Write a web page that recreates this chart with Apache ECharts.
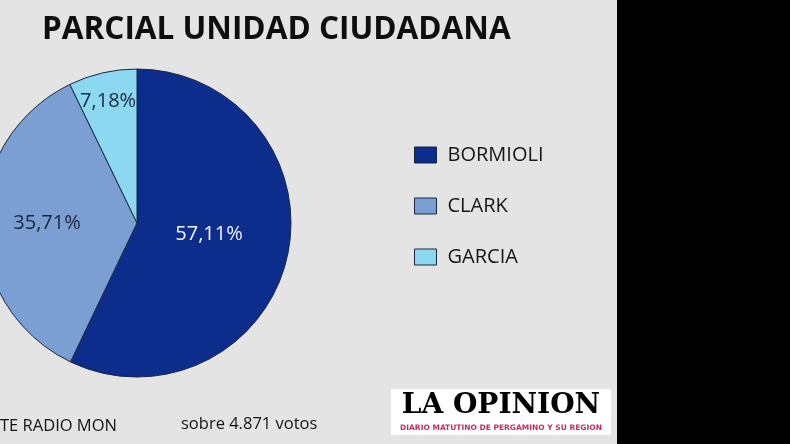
<!DOCTYPE html>
<html>
<head>
<meta charset="utf-8">
<script src="https://cdn.jsdelivr.net/npm/echarts@6/dist/echarts.min.js"></script>
<style>
  html, body { margin: 0; padding: 0; background: #000; }
  #chart { width: 617px; height: 444px; }
</style>
</head>
<body>
<div id="chart"></div>
<script>
// datos
var candidatos = ['BORMIOLI', 'CLARK', 'GARCIA']
var porcentajes = [57.11, 35.71, 7.18]
var colores = ['#0c2d8c', '#7c9fd3', '#8cd8f1']
var colorEtiqueta = ['#f2f4ff', '#1b2640', '#1b2640']
var titulo = 'PARCIAL UNIDAD CIUDADANA'
var fuente = 'TE RADIO MON'
var nota = 'sobre 4.871 votos'

var myChart = echarts.init(document.getElementById('chart'))

var datos = candidatos.map(function (n, i) {
  return {
    name: n,
    value: porcentajes[i],
    itemStyle: { color: colores[i] },
    label: { color: colorEtiqueta[i] }
  }
})

var option = {
  backgroundColor: '#e4e4e4',
  animation: false,
  title: {
    text: titulo,
    left: 42,
    top: 14,
    padding: 0,
    textStyle: {
      fontFamily: 'Open Sans',
      fontWeight: 'bold',
      fontSize: 31.5,
      color: '#0e0e0e'
    }
  },
  legend: {
    orient: 'vertical',
    left: 414,
    top: 145,
    padding: 0,
    itemWidth: 22,
    itemHeight: 16,
    itemGap: 31,
    icon: 'rect',
    data: candidatos,
    itemStyle: { borderColor: '#1b2640', borderWidth: 1 },
    textStyle: {
      fontFamily: 'Open Sans',
      fontSize: 20,
      color: '#161616',
      padding: [0, 0, 0, 6]
    }
  },
  series: [
    {
      type: 'pie',
      center: [137, 223],
      radius: 154,
      startAngle: 90,
      clockwise: true,
      silent: true,
      itemStyle: { borderColor: '#1b2640', borderWidth: 1 },
      label: {
        position: 'inside',
        fontFamily: 'Open Sans',
        fontSize: 20,
        formatter: function (p) {
          return p.value.toFixed(2).replace('.', ',') + '%'
        }
      },
      labelLine: { show: false },
      // ajuste fino de las etiquetas
      labelLayout: function (p) {
        if (p.dataIndex === 1) return { dx: -10, dy: 0 }
        if (p.dataIndex === 2) return { dx: -11, dy: -44 }
        return { dx: -6, dy: -6 }
      },
      data: datos
    }
  ],
  graphic: [
    {
      type: 'text',
      left: 0,
      top: 418,
      style: { text: fuente, font: '16.5px "Open Sans"', fill: '#141414' }
    },
    {
      type: 'text',
      left: 181,
      top: 416,
      style: { text: nota, font: '16.5px "Open Sans"', fill: '#141414' }
    },
    {
      type: 'group',
      left: 391,
      top: 389,
      children: [
        {
          type: 'rect',
          shape: { x: 0, y: 0, width: 220, height: 46 },
          style: { fill: '#ffffff' }
        },
        {
          type: 'text',
          x: 110,
          y: 3,
          style: {
            text: 'LA OPINION',
            font: 'bold 28px "DejaVu Serif"',
            fill: '#000',
            align: 'center'
          }
        },
        {
          type: 'text',
          x: 110,
          y: 35,
          style: {
            text: 'DIARIO MATUTINO DE PERGAMINO Y SU REGION',
            font: 'bold 7.5px "DejaVu Sans"',
            fill: '#c0305c',
            align: 'center'
          }
        }
      ]
    }
  ]
}

myChart.setOption(option)
</script>
</body>
</html>
